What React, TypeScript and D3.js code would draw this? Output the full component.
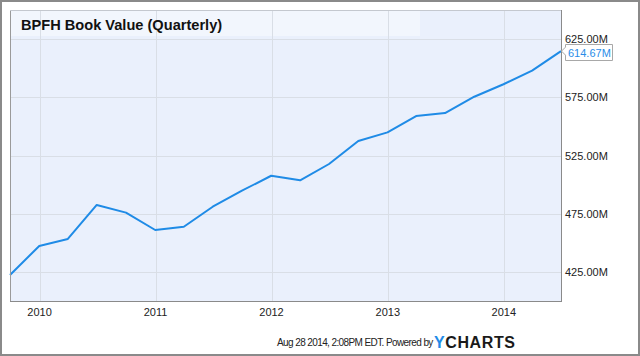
import React from "react";
import * as d3 from "d3";

const dates: string[] = [
  "2009-09-30", "2009-12-31", "2010-03-31", "2010-06-30", "2010-09-30", "2010-12-31",
  "2011-03-31", "2011-06-30", "2011-09-30", "2011-12-31", "2012-03-31", "2012-06-30",
  "2012-09-30", "2012-12-31", "2013-03-31", "2013-06-30", "2013-09-30", "2013-12-31",
  "2014-03-31", "2014-06-30",
];
const bookValue: number[] = [
  422.3, 447.3, 453.3, 482.5, 475.9, 461.0, 463.8, 481.0, 494.8, 507.6, 503.7, 517.7,
  537.5, 544.9, 558.9, 561.5, 575.5, 586.2, 597.9, 614.67,
];
const yTicks: number[] = [425, 475, 525, 575, 625];
const xTickYears: number[] = [2010, 2011, 2012, 2013, 2014];
const title = "BPFH Book Value (Quarterly)";
const lastLabel = "614.67M";
const footer = "Aug 28 2014, 2:08PM EDT.  Powered by";

const W = 640;
const H = 356;
const L = 10, R = 561, T = 10, B = 301;
const font = "'Liberation Sans', Arial, sans-serif";

export default function App() {
  const parse = d3.timeParse("%Y-%m-%d");
  const data = dates.map((d, i) => ({ date: parse(d) as Date, value: bookValue[i] }));
  const x = d3.scaleTime()
    .domain([parse("2009-09-30") as Date, parse("2014-06-30") as Date])
    .range([L, R]);
  const y = d3.scaleLinear().domain([400, 650]).range([B, T]);
  const line = d3.line<{ date: Date; value: number }>()
    .x((d) => x(d.date))
    .y((d) => y(d.value));
  const last = data[data.length - 1];
  const ly = y(last.value);

  return (
    <svg width={W} height={H} style={{ position: "absolute", left: 0, top: 0 }} fontFamily={font}>
      <rect x={0} y={0} width={W} height={H} fill="#fff" />
      <rect x={1} y={1} width={W - 2} height={H - 2} fill="none" stroke="#8a8a8a" strokeWidth={2} />
      <rect x={L} y={T} width={R - L} height={B - T} fill="#eaf0fc" />
      <rect x={L} y={T} width={410} height={26} fill="#ffffff" opacity={0.4} />
      {yTicks.map((t) => (
        <line key={t} x1={L} x2={R} y1={Math.round(y(t)) + 0.5} y2={Math.round(y(t)) + 0.5} stroke="#d9dee6" strokeWidth={1} />
      ))}
      {xTickYears.map((yr) => {
        const xx = Math.round(x(new Date(yr, 0, 1))) + 0.5;
        return <line key={yr} x1={xx} x2={xx} y1={T} y2={B} stroke="#d9dee6" strokeWidth={1} />;
      })}
      <path d={line(data) || ""} fill="none" stroke="#1f8be6" strokeWidth={2} strokeLinejoin="round" />
      <line x1={L + 0.5} x2={L + 0.5} y1={T} y2={B} stroke="#9a9a9a" />
      <line x1={R + 0.5} x2={R + 0.5} y1={T} y2={B} stroke="#8a8a8a" />
      <line x1={L} x2={R} y1={T + 0.5} y2={T + 0.5} stroke="#c4c8cf" />
      <line x1={L} x2={R + 1} y1={B + 0.5} y2={B + 0.5} stroke="#8a8a8a" />
      <text x={21} y={30} fontSize={14.6} fontWeight="bold" fill="#111">{title}</text>
      {yTicks.map((t) => (
        <text key={t} x={565} y={y(t) + 4} fontSize={11} fill="#222">{d3.format(".2f")(t)}M</text>
      ))}
      {xTickYears.map((yr) => (
        <text key={yr} x={x(new Date(yr, 0, 1))} y={316} fontSize={11} fill="#222" textAnchor="middle">{yr}</text>
      ))}
      <path
        d={`M${R + 0.5},${ly} L${565.5},${ly - 4} L565.5,44.5 L612.5,44.5 L612.5,60.5 L565.5,60.5 L565.5,${ly + 4} Z`}
        fill="#fff"
        stroke="#a8a8a8"
      />
      <text x={568} y={57} fontSize={11} fill="#2a8de8">{lastLabel}</text>
      <text x={277} y={346} fontSize={10} fill="#222" letterSpacing={-0.6}>{footer}</text>
      <text x={434} y={348} fontSize={16} fontWeight="bold" fill="#1a1a1a" letterSpacing={0.6}>
        <tspan fill="#1f8ce8">Y</tspan>CHARTS
      </text>
    </svg>
  );
}
